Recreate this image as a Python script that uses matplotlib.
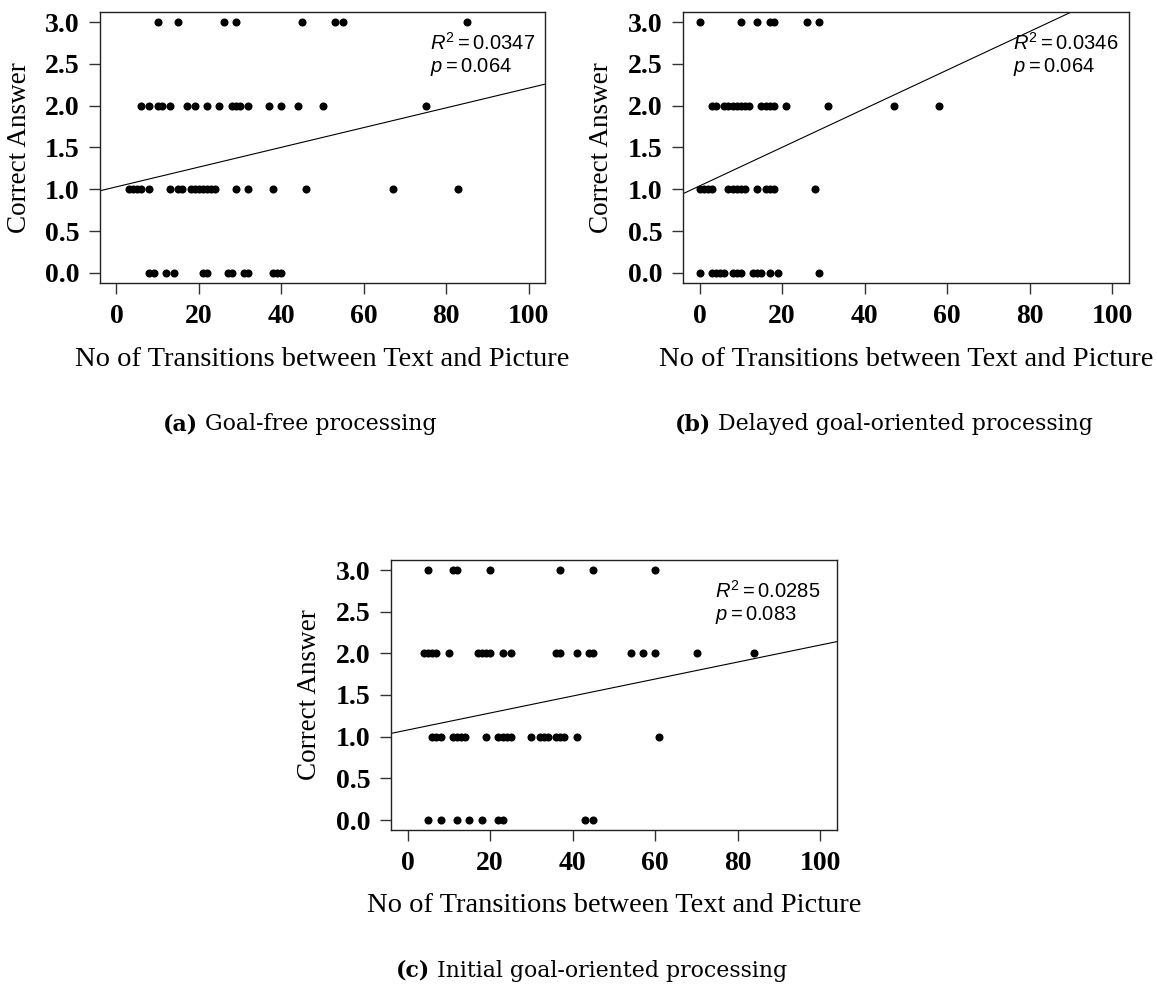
import matplotlib.pyplot as plt

# fonts: Times-like axes text, Arial-like stats, Century-like captions
SERIF = 'Liberation Serif'
SANS = 'Liberation Sans'
CAPTION = 'DejaVu Serif'
plt.rcParams['mathtext.fontset'] = 'custom'
plt.rcParams['mathtext.rm'] = SANS
plt.rcParams['mathtext.it'] = SANS + ':italic'

X_TICKS = [0, 20, 40, 60, 80, 100]
Y_TICKS = [0.0, 0.5, 1.0, 1.5, 2.0, 2.5, 3.0]
SCORES = [3.0, 2.0, 1.0, 0.0]
X_LABEL = 'No of Transitions between Text and Picture'
Y_LABEL = 'Correct Answer'

# (a) goal-free processing : transitions per score level
a_x_3 = [10, 15, 26, 29, 45, 53, 55, 85]
a_x_2 = [6, 8, 10, 11, 13, 17, 19, 22, 25, 28, 29, 30, 32, 37, 40, 44, 50, 75]
a_x_1 = [3, 4, 5, 6, 8, 13, 15, 16, 18, 19, 20, 21, 22, 23, 24, 29, 32, 38, 46, 67, 83]
a_x_0 = [8, 9, 12, 14, 21, 22, 27, 28, 31, 32, 38, 39, 40]
a_fit = (1.03, 0.0118)          # intercept, slope
a_stats = ('0.0347', '0.064')

# (b) delayed goal-oriented processing
b_x_3 = [0, 10, 14, 17, 18, 26, 29]
b_x_2 = [3, 4, 6, 7, 8, 9, 10, 11, 12, 15, 16, 17, 18, 21, 31, 47, 58]
b_x_1 = [0, 1, 2, 3, 7, 8, 9, 10, 11, 14, 16, 17, 18, 28]
b_x_0 = [0, 3, 4, 5, 6, 8, 9, 10, 13, 14, 15, 17, 19, 29]
b_fit = (1.04, 0.0231)
b_stats = ('0.0346', '0.064')

# (c) initial goal-oriented processing
c_x_3 = [5, 11, 12, 20, 37, 45, 60]
c_x_2 = [4, 5, 6, 7, 10, 17, 18, 19, 20, 23, 25, 36, 37, 41, 44, 45, 54, 57, 60, 70, 84]
c_x_1 = [6, 7, 8, 11, 12, 13, 14, 19, 22, 23, 24, 25, 30, 32, 33, 34, 36, 37, 38, 41, 61]
c_x_0 = [5, 8, 12, 15, 18, 22, 23, 43, 45]
c_fit = (1.08, 0.0102)
c_stats = ('0.0285', '0.083')

W, H = 1157, 985
fig = plt.figure(figsize=(W / 100, H / 100), dpi=100)


def px_axes(left, top, right, bottom):
    return fig.add_axes([left / W, 1 - bottom / H, (right - left) / W, (bottom - top) / H])


def draw_panel(ax, levels, fit, stats, stats_x):
    for xs, score in zip(levels, SCORES):
        ax.plot(xs, [score] * len(xs), 'o', color='black', markersize=5.8, markeredgewidth=0)
    ax.axline((0, fit[0]), slope=fit[1], color='black', linewidth=0.8)
    ax.set_xlim(-4, 104)
    ax.set_ylim(-0.12, 3.12)
    ax.set_xticks(X_TICKS)
    ax.set_yticks(Y_TICKS)
    ax.set_yticklabels(['%.1f' % v for v in Y_TICKS])
    for lab in ax.get_xticklabels() + ax.get_yticklabels():
        lab.set_fontfamily(SERIF)
        lab.set_fontweight('bold')
        lab.set_fontsize(20)
    ax.tick_params(axis='both', length=8, width=1, color='#333333')
    ax.tick_params(axis='x', pad=7)
    ax.tick_params(axis='y', pad=7)
    for sp in ax.spines.values():
        sp.set_linewidth(1.0)
        sp.set_color('#222222')
    ax.set_xlabel(X_LABEL, family=SERIF, fontsize=20.5)
    ax.xaxis.set_label_coords(0.5, -0.235)
    ax.set_ylabel(Y_LABEL, family=SERIF, fontsize=19.5, va='center')
    ax.yaxis.set_label_coords(-0.182, 0.5)
    ax.text(stats_x, 2.67, r'$R^2 = %s$' % stats[0], fontsize=14.5, va='baseline', ha='left')
    ax.text(stats_x, 2.40, r'$p = %s$' % stats[1], fontsize=14.5, va='baseline', ha='left')


ax_a = px_axes(100, 12, 545, 283)
ax_b = px_axes(683, 12, 1129, 283)
ax_c = px_axes(391, 560, 837, 830)

draw_panel(ax_a, [a_x_3, a_x_2, a_x_1, a_x_0], a_fit, a_stats, 76)
draw_panel(ax_b, [b_x_3, b_x_2, b_x_1, b_x_0], b_fit, b_stats, 76)
draw_panel(ax_c, [c_x_3, c_x_2, c_x_1, c_x_0], c_fit, c_stats, 74.5)

# captions: bold tag + regular text, centred on a pixel x
captions = [('(a)', ' Goal-free processing', 299.5, 430),
            ('(b)', ' Delayed goal-oriented processing', 883.5, 430),
            ('(c)', ' Initial goal-oriented processing', 591.5, 977)]
fig.canvas.draw()
renderer = fig.canvas.get_renderer()
for tag, rest, cx, base in captions:
    t1 = fig.text(0, 1 - base / H, tag, family=CAPTION, fontsize=15.8, fontweight='bold', va='baseline')
    t2 = fig.text(0, 1 - base / H, rest, family=CAPTION, fontsize=15.8, va='baseline')
    w1 = t1.get_window_extent(renderer).width
    w2 = t2.get_window_extent(renderer).width
    left = cx - (w1 + w2) / 2
    t1.set_x(left / W)
    t2.set_x((left + w1) / W)

fig.savefig('out.png', dpi=100)
